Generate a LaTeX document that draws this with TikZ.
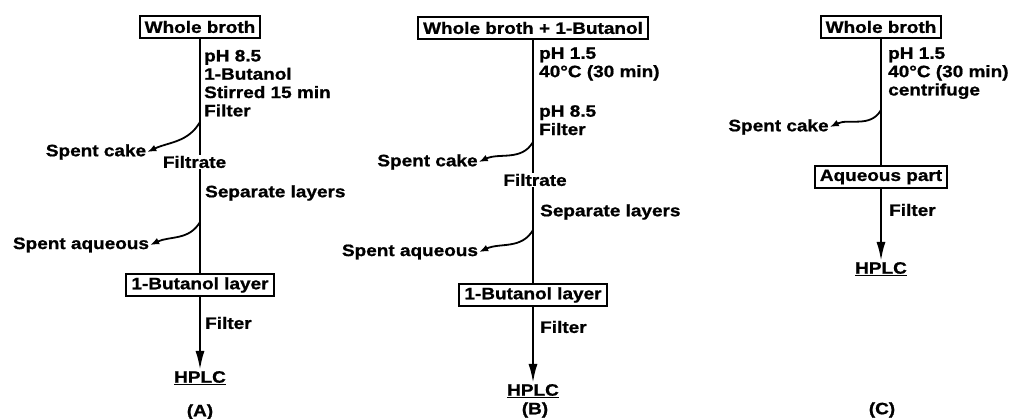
\documentclass[tikz,border=0pt]{standalone}
\usepackage{fontspec}
\newfontfamily\figfont{Liberation Sans}[FakeStretch=1.15,FakeBold=1]
\usetikzlibrary{arrows.meta}
\tikzset{
  every node/.style={font=\figfont\bfseries\fontsize{16.5}{18.3}\selectfont, inner sep=1pt},
  stage/.style={draw, line width=2pt, inner xsep=5pt, inner ysep=2pt, minimum height=22pt},
  notes/.style={anchor=north west, align=left, inner sep=0pt},
  flow/.style={line width=2.2pt},
  drop/.style={line width=1.8pt, -{Latex[length=9pt,width=7pt]}},
  feed/.style={line width=2.2pt, -{Latex[length=19pt,width=9pt]}}
}
\begin{document}
\begin{tikzpicture}[x=1pt,y=1pt]
\useasboundingbox (0,0) rectangle (1016,-419);
\node[stage] (wbA) at (200,-27) {Whole broth};
\node[notes] (stA) at (204,-49.7) {pH 8.5\\1-Butanol\\Stirred 15 min\\Filter};
\node (cakeA) at (96,-152) {Spent cake};
\node (filA) at (194.5,-162) {Filtrate};
\node[anchor=west] (sepA) at (204,-193) {Separate layers};
\node (aqA) at (81,-245) {Spent aqueous};
\node[stage] (buA) at (200,-285) {1-Butanol layer};
\node[anchor=west] (fA) at (204,-323) {Filter};
\node (hplcA) at (200,-378) {\underline{HPLC}};
\node (labA) at (200,-412) {(A)};
\coordinate (brA1) at (200,-122);
\coordinate (brA2) at (200,-222);
\draw[flow] (wbA.south) -- (wbA.south |- filA.north);
\draw[flow] (buA.north |- filA.south) -- (buA.north);
\draw[feed] (buA.south) -- (hplcA.north);
\draw[drop] (brA1) to[out=-120,in=25] (cakeA.east);
\draw[drop] (brA2) to[out=-120,in=25] (aqA.east);

\node[stage] (wbB) at (533,-28) {Whole broth + 1-Butanol};
\node[notes] (stB1) at (539,-47.3) {pH 1.5\\40°C (30 min)};
\node[notes] (stB2) at (539,-105) {pH 8.5\\Filter};
\node (cakeB) at (427.5,-162) {Spent cake};
\node (filB) at (535,-180) {Filtrate};
\node[anchor=west] (sepB) at (539,-212) {Separate layers};
\node (aqB) at (410,-252) {Spent aqueous};
\node[stage] (buB) at (533,-295) {1-Butanol layer};
\node[anchor=west] (fB) at (539,-327) {Filter};
\node (hplcB) at (533,-391) {\underline{HPLC}};
\node (labB) at (535,-410) {(B)};
\coordinate (brB1) at (533,-142);
\coordinate (brB2) at (533,-230);
\draw[flow] (wbB.south) -- (wbB.south |- filB.north);
\draw[flow] (buB.north |- filB.south) -- (buB.north);
\draw[feed] (buB.south) -- (hplcB.north);
\draw[drop] (brB1) to[out=-120,in=25] (cakeB.east);
\draw[drop] (brB2) to[out=-120,in=25] (aqB.east);

\node[stage] (wbC) at (881,-27) {Whole broth};
\node[notes] (stC) at (888,-47.3) {pH 1.5\\40°C (30 min)\\centrifuge};
\node (cakeC) at (778.5,-127) {Spent cake};
\node[stage] (aqpC) at (881,-177) {Aqueous part};
\node[anchor=west] (fC) at (888,-210) {Filter};
\node (hplcC) at (881,-269) {\underline{HPLC}};
\node (labC) at (882,-410) {(C)};
\coordinate (brC1) at (881,-110);
\draw[flow] (wbC) -- (aqpC);
\draw[feed] (aqpC) -- (hplcC);
\draw[drop] (brC1) to[out=-120,in=25] (cakeC.east);
\end{tikzpicture}
\end{document}
